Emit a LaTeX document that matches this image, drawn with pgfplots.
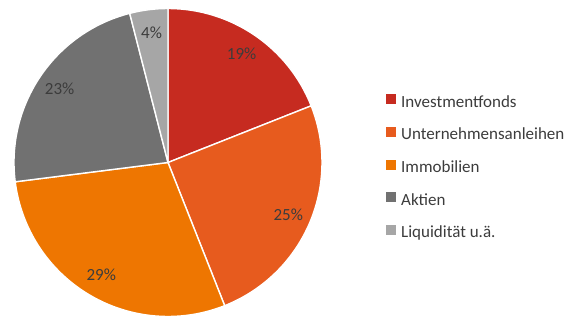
\documentclass[border=0pt]{standalone}
\usepackage{pgfplots}
\usepackage{pgfplotstable}
\pgfplotsset{compat=1.18}
\usepackage{fontspec}
\setmainfont{Carlito}
\definecolor{cInv}{HTML}{C62B20}
\definecolor{cUnt}{HTML}{E75B1E}
\definecolor{cImm}{HTML}{EE7601}
\definecolor{cAkt}{HTML}{717171}
\definecolor{cLiq}{HTML}{A6A6A6}
\definecolor{lblgray}{HTML}{3C3C3C}

\pgfplotstableread[col sep=comma]{
label,value,color
Investmentfonds,19,cInv
Unternehmensanleihen,25,cUnt
Immobilien,29,cImm
Aktien,23,cAkt
Liquidität u.ä.,4,cLiq
}\piedata

\tikzset{pielabel/.style={font=\fontsize{17}{19}\selectfont, text=lblgray, inner sep=0pt}}

\begin{document}
\begin{tikzpicture}
\begin{axis}[
  scale only axis, x=1pt, y=1pt,
  xmin=0, xmax=571, ymin=0, ymax=317,
  hide axis, clip=false,
  legend image code/.code={\fill[#1] (0pt,-1pt) rectangle (10pt,9pt);},
  legend cell align=left,
  legend style={draw=none, fill=none, at={(axis cs:386,223)}, anchor=north west,
    inner sep=0pt, row sep=14.7pt, column sep=4pt,
    nodes={font=\fontsize{17}{19}\selectfont, text=lblgray, inner sep=1pt,
      text height=12pt, text depth=4pt}},
]
\path (axis cs:0,0) rectangle (axis cs:571,317);
\def\startang{90}
\pgfplotsforeachungrouped \i in {0,...,4}{%
  \pgfplotstablegetelem{\i}{value}\of\piedata \let\val\pgfplotsretval
  \pgfplotstablegetelem{\i}{color}\of\piedata \let\col\pgfplotsretval
  \pgfplotstablegetelem{\i}{label}\of\piedata \let\lab\pgfplotsretval
  \pgfmathsetmacro\endang{\startang-3.6*\val}
  \pgfmathsetmacro\midang{(\startang+\endang)/2}
  \edef\doslice{%
    \noexpand\fill[\col, draw=white, line width=1.4pt, line join=round]
      (axis cs:168,154.5) -- ++(\startang:154pt)
      arc[start angle=\startang, end angle=\endang, radius=154pt] -- cycle;
    \noexpand\path (axis cs:168,154.5) ++(\midang:131pt) node[pielabel] {\val\noexpand\%};
    \noexpand\addlegendimage{fill=\col, draw=none}
    \noexpand\addlegendentry{\lab}
  }%
  \doslice
  \let\startang\endang
}
\end{axis}
\end{tikzpicture}
\end{document}
